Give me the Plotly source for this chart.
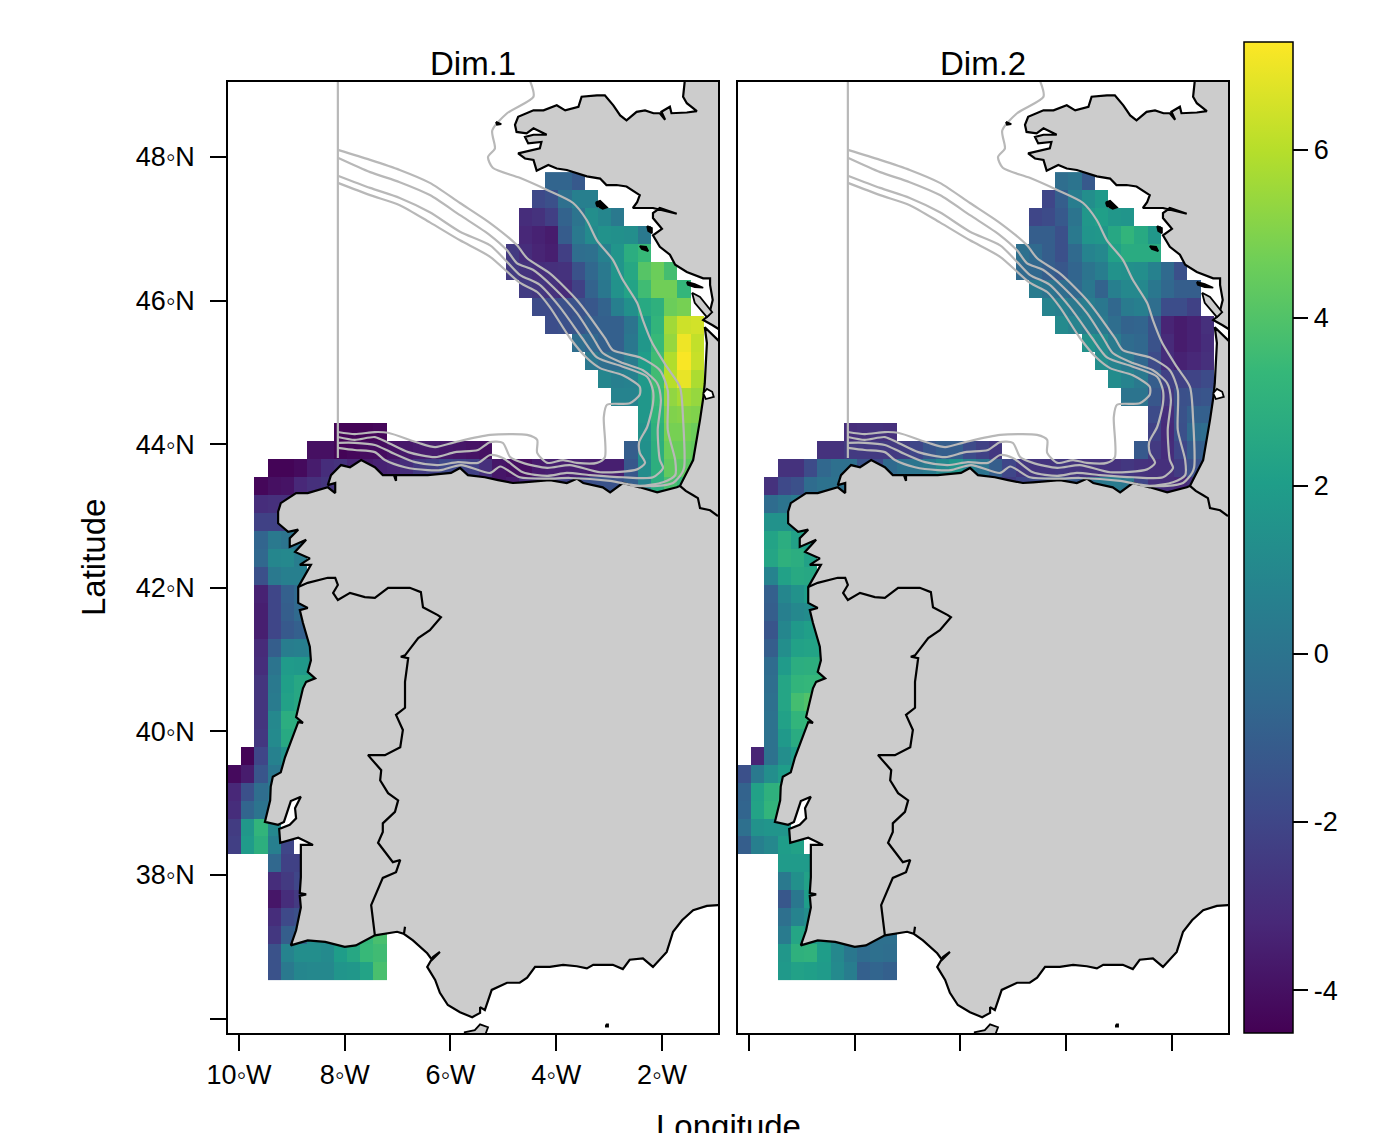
import plotly.graph_objects as go

N = None
PANEL_TITLES = ["Dim.1", "Dim.2"]
LON_FIRST_CENTRE = -10.083
LAT_FIRST_CENTRE = 47.665
CELL_DEG = 0.25
N_COLS = 37

# first grid column of each latitude row (row 0 is the northernmost)
ROW_FIRST = [24, 23, 22, 22, 21, 21, 22, 23, 24, 26, 27, 28, 29, 31, 8, 6, 3, 2,
             2, 2, 2, 2, 2, 2, 2, 2, 2, 2, 2, 2, 2, 2, 1, 0, 0, 0, 0, 0,
             3, 3, 3, 3, 3, 3, 3]

DIM1 = [
    [-0.7, -0.7, -1.2],
    [-1.9, -1.6, -0.2, 0.6, 0.6],
    [-3.0, -2.8, -2.3, -0.8, 0.0, 1.3, 0.9, 0.3],
    [-3.2, -3.4, -3.6, -1.1, 0.3, 1.1, 1.5, 1.4, 1.3, 0.3],
    [-2.5, -3.0, -3.3, -3.5, -2.3, -0.3, -0.2, 0.7, 1.6, 2.8, 3.4],
    [-2.5, -2.8, -3.0, -2.9, -2.8, -1.5, -0.6, 0.3, 1.6, 2.5, 4.1, 4.6, 3.7],
    [-2.4, -2.6, -2.8, -3.1, -2.2, -0.8, 0.2, 1.5, 2.3, 3.6, 4.7, 4.7, 3.3],
    [-1.8, -1.8, -1.6, -1.5, -1.3, -0.8, 0.6, 1.4, 2.6, 3.0, 4.6, 4.8],
    [-1.7, -1.6, -1.4, -1.0, -0.9, -0.9, 0.0, 1.8, 3.2, 5.6, 6.4, 6.5],
    [-0.3, -0.6, -0.9, -0.9, 0.2, 1.7, 3.4, 5.4, 7.0, 6.2],
    [0.2, -0.3, -0.4, 0.4, 2.0, 3.6, 5.9, 7.2, 6.3],
    [0.9, 0.6, 0.7, 1.8, 3.6, 6.0, 6.9, 5.8],
    [0.8, 0.8, 1.7, 3.4, 5.3, 5.7, 5.4],
    [1.7, 3.2, 5.0, 5.1, 5.0],
    [-4.4, -4.4, -4.4, -4.3] + [N] * 19 + [1.5, 3.0, 4.8, 4.8, 4.6],
    [-4.0, -4.0, -4.4, -4.3, -4.1, -4.1, -3.9, -3.7, -3.6, -3.6, -3.7, -3.8, -3.9, -4.0]
    + [N] * 10 + [-1.0, 1.4, 2.9, 4.6, 4.6, 4.4],
    [-4.4, -4.4, -4.2, -3.6, -3.0, -2.8, -3.3, -3.6, -3.4, -3.3, -3.0, -2.5, -2.3, -1.9, -2.0, -2.2,
     -2.9, -3.8, -4.0, -4.0, -3.6, -3.5, -3.5, -3.5, -3.6, -3.5, -3.5, -1.3, 1.2, 2.9, 4.4, 4.3, 4.0],
    [-4.3, -4.0, -3.9, -3.2, -2.9, -2.7, -2.8, -3.0, -3.0, -3.0, -3.0, -3.0, -2.5, -2.5, -2.3, -2.5, -3.0,
     -3.6, -3.8, -3.6, -3.0, -2.8, -2.5, -2.2, -1.8, -1.6, -1.5, -1.5, -1.0, 0.8, 2.8, 3.8, 3.4, 3.0],
    [-3.0, -2.9, -2.9],
    [-2.2, -2.2, -2.3],
    [-0.7, 0.3, 0.0, 0.0],
    [-0.6, 0.9, 1.0, 0.5],
    [-1.6, 0.3, 0.6, 0.6],
    [-3.4, -2.0, -0.9, -0.5],
    [-3.5, -2.0, -1.0, -0.5],
    [-3.5, -2.0, -1.2, -0.9, -0.8],
    [-3.1, -1.0, 0.5, 0.6, 0.7],
    [-3.0, 0.0, 1.9, 1.8, 1.7],
    [-2.7, 0.3, 2.1, 2.5, 2.5],
    [-2.7, 0.4, 2.2, 2.5],
    [-2.7, 1.0, 2.8, 2.8],
    [-2.6, 1.1, 2.6, 2.3],
    [-4.4, -2.0, 0.7, 1.5, 1.5],
    [-4.2, -3.6, -1.4, 0.2, 0.6],
    [-3.2, -1.6, -0.3, 0.2],
    [-3.0, -0.7, 0.0, 0.0],
    [-2.4, 1.7, 3.2, 1.0],
    [-2.3, 1.9, 2.9, 0.6, -2.0],
    [-0.6, -2.2, -2.2, -2.2],
    [-3.0, -2.5, -2.0, -2.0],
    [-3.8, -3.0, -2.5, -2.5],
    [-3.0, -1.9, -1.6, -1.6],
    [-2.6, -1.0, -0.7, 1.2, 1.1, 1.5, 2.2, 3.3, 3.8],
    [-1.5, 0.8, 1.3, 1.3, 1.1, 2.0, 2.5, 3.4, 3.6],
    [-1.5, 0.3, 0.9, 1.0, 1.0, 1.6, 1.7, 2.3, 3.8],
]

DIM2 = [
    [-0.3, 0.0, -1.2],
    [-2.0, -1.0, 0.5, 1.3, 1.8],
    [-2.0, -1.8, -1.2, 0.0, 1.7, 2.1, 1.7, 1.6],
    [-1.0, -1.0, -1.6, 0.3, 1.6, 1.7, 2.5, 3.2, 2.6, 1.7],
    [-0.2, -0.5, -1.0, -1.6, -0.5, 0.8, 1.0, 2.2, 2.7, 2.7, 2.7],
    [-0.5, -0.6, -1.0, -1.3, -0.7, 0.0, 0.5, 1.5, 1.4, 1.3, 0.7, -0.5, -1.6],
    [0.4, 0.0, -0.3, -0.6, 0.2, -0.8, 0.6, 1.0, 1.0, 0.2, -0.6, -1.0, -1.0],
    [0.8, 0.6, 0.3, 0.5, 0.2, -0.6, 0.4, 0.6, -0.3, -1.7, -1.7, -2.2],
    [1.1, 0.8, 0.5, 0.3, -0.3, -0.8, -0.7, -1.5, -3.3, -3.6, -3.4, -2.9],
    [1.5, 1.1, 0.4, -0.4, -0.6, -1.5, -3.1, -3.6, -3.4, -3.0],
    [1.3, 0.8, 0.3, -0.6, -1.8, -3.0, -3.4, -3.2, -2.9],
    [1.2, 0.8, 0.3, -1.0, -2.2, -2.2, -2.1, -1.8],
    [0.0, 0.0, -1.3, -2.6, -1.6, -1.5, -1.4],
    [-1.8, -3.0, -1.5, -0.9, -0.9],
    [-3.0, -2.9, -2.8, -2.9] + [N] * 19 + [-2.2, -3.1, -1.6, -0.5, -0.3],
    [-2.8, -2.8, -2.5, -2.5, -2.5, -2.5, -2.4, -2.0, -1.4, -1.0, -1.0, -1.8, -2.2, -2.6]
    + [N] * 10 + [-1.2, -2.5, -3.0, -2.0, -1.1, -0.9],
    [-2.8, -2.8, -1.8, -0.6, -0.2, -0.2, -1.5, -1.9, -0.5, -0.1, 0.1, 0.4, 1.0, 1.6, 0.7, 0.0,
     -1.0, -2.0, -2.6, -2.7, -2.7, -2.6, -2.7, -2.8, -2.8, -2.8, -2.6, -2.8, -2.9, -2.9, -2.4, -1.6, -1.2],
    [-2.8, -1.9, -1.6, -0.4, -0.1, -0.1, -0.5, -1.0, -1.0, -1.0, -1.0, -1.0, -0.5, 0.0, 0.5, 0.0, -1.0,
     -2.4, -2.4, -2.0, -1.8, -1.5, -1.2, -1.2, -0.4, 0.3, 0.4, 0.2, -2.0, -2.9, -3.0, -3.2, -2.8, -2.6],
    [-0.4, 0.0, 0.4],
    [1.5, 1.5, 1.3],
    [2.3, 2.8, 2.2, 2.0],
    [2.4, 3.0, 2.8, 2.2],
    [0.8, 2.2, 2.6, 2.5],
    [-0.9, 0.9, 1.5, 2.0],
    [-1.0, 0.6, 1.0, 1.2],
    [-1.4, 0.9, 1.8, 2.1, 2.4],
    [-1.0, 1.3, 2.2, 2.3, 2.3],
    [-0.4, 1.9, 2.8, 2.9, 2.9],
    [-0.3, 2.4, 3.2, 3.3, 3.3],
    [-0.2, 2.4, 3.7, 4.0],
    [-0.1, 2.2, 3.2, 3.3],
    [-0.1, 1.8, 2.7, 3.0],
    [-3.3, -0.1, 1.3, 2.0, 2.2],
    [-1.6, 0.3, 1.3, 2.0, 2.5],
    [-0.8, 2.2, 3.0, 3.2],
    [-0.7, 2.3, 3.2, 3.2],
    [-0.2, 1.5, 1.6, 1.6],
    [-1.0, 0.6, 1.0, 2.0, 2.2],
    [1.9, 1.9, 1.9, 2.0],
    [0.3, 1.4, 2.2, 2.2],
    [-1.3, 0.2, 2.0, 2.0],
    [-0.2, 0.8, 1.3, 1.5],
    [0.4, 2.4, 2.0, 1.8, 1.0, 0.5, 0.0, -0.2, -0.2],
    [1.7, 3.0, 3.1, 2.0, 1.0, 0.2, -0.4, -0.2, -0.3],
    [1.8, 2.2, 2.1, 1.9, 1.1, 0.5, -0.9, -0.7, -0.9],
]

# Land outline, lon/lat
COAST = [
    (-1.57, 49.2), (-1.57, 49.05), (-1.60, 48.84), (-1.53, 48.75), (-1.34, 48.64), (-1.53, 48.62),
    (-1.82, 48.61), (-1.85, 48.70), (-2.01, 48.63), (-1.94, 48.52), (-2.04, 48.61), (-2.16, 48.61),
    (-2.32, 48.65), (-2.48, 48.63), (-2.67, 48.51), (-2.79, 48.58), (-2.92, 48.72), (-3.08, 48.86),
    (-3.23, 48.86), (-3.52, 48.84), (-3.58, 48.70), (-3.83, 48.65), (-3.99, 48.72), (-4.24, 48.65),
    (-4.43, 48.65), (-4.72, 48.56), (-4.78, 48.45), (-4.75, 48.35), (-4.56, 48.33), (-4.43, 48.40),
    (-4.18, 48.31), (-4.43, 48.31), (-4.59, 48.28), (-4.53, 48.19), (-4.28, 48.21), (-4.31, 48.12),
    (-4.72, 48.05), (-4.59, 47.98), (-4.43, 47.96), (-4.37, 47.81), (-4.15, 47.89), (-3.99, 47.84),
    (-3.80, 47.82), (-3.42, 47.73), (-3.17, 47.70), (-3.05, 47.61), (-2.86, 47.61), (-2.67, 47.59),
    (-2.42, 47.47), (-2.47, 47.37), (-2.55, 47.29), (-2.17, 47.29), (-1.72, 47.21), (-2.04, 47.29),
    (-2.17, 47.22), (-2.17, 47.15), (-2.00, 47.00), (-2.17, 46.91), (-2.04, 46.75), (-1.85, 46.64),
    (-1.75, 46.50), (-1.53, 46.40), (-1.22, 46.31), (-1.09, 46.31), (-1.09, 46.22), (-1.04, 46.01),
    (-1.11, 45.80), (-1.22, 45.73), (-1.05, 45.66), (-0.83, 45.56), (-0.83, 45.37), (-1.19, 45.63),
    (-1.15, 45.41), (-1.19, 44.85), (-1.22, 44.64), (-1.28, 44.34), (-1.41, 43.78), (-1.53, 43.60),
    (-1.66, 43.42), (-1.72, 43.40), (-2.09, 43.33), (-2.42, 43.40), (-2.74, 43.46), (-2.98, 43.33),
    (-3.12, 43.40), (-3.49, 43.46), (-3.61, 43.52), (-3.80, 43.46), (-4.12, 43.50), (-4.63, 43.47),
    (-4.82, 43.46), (-5.10, 43.50), (-5.35, 43.54), (-5.67, 43.57), (-5.82, 43.67), (-5.99, 43.60),
    (-6.43, 43.57), (-7.03, 43.57), (-7.03, 43.49), (-7.07, 43.57), (-7.28, 43.57), (-7.43, 43.68),
    (-7.69, 43.78), (-7.90, 43.68), (-8.07, 43.71), (-8.26, 43.57), (-8.32, 43.43), (-8.18, 43.46),
    (-8.18, 43.32), (-8.32, 43.40), (-8.70, 43.32), (-8.92, 43.32), (-9.21, 43.18), (-9.26, 43.06),
    (-9.26, 42.90), (-9.07, 42.78), (-8.88, 42.81), (-9.04, 42.69), (-9.04, 42.57), (-8.73, 42.67),
    (-8.94, 42.50), (-8.66, 42.41), (-8.85, 42.32), (-8.64, 42.32), (-8.88, 42.01), (-8.88, 41.79),
    (-8.70, 41.72), (-8.85, 41.69), (-8.79, 41.51), (-8.66, 41.18), (-8.64, 40.99), (-8.70, 40.83),
    (-8.56, 40.74), (-8.73, 40.69), (-8.79, 40.60), (-8.92, 40.20), (-8.79, 40.12), (-8.88, 40.13),
    (-9.13, 39.64), (-9.21, 39.43), (-9.36, 39.37), (-9.40, 39.23), (-9.41, 39.04), (-9.51, 38.74),
    (-9.26, 38.70), (-9.15, 38.74), (-9.02, 39.03), (-8.83, 39.09), (-8.94, 38.93), (-8.92, 38.79),
    (-9.04, 38.70), (-9.24, 38.64), (-9.22, 38.45), (-8.88, 38.52), (-8.60, 38.42), (-8.83, 38.42),
    (-8.83, 37.97), (-8.85, 37.75), (-8.73, 37.73), (-8.85, 37.71), (-8.83, 37.55), (-8.92, 37.23),
    (-9.02, 37.02), (-8.70, 37.09), (-8.37, 37.07), (-8.00, 37.00), (-7.79, 37.02), (-7.43, 37.16),
    (-7.01, 37.21), (-6.88, 37.18), (-6.86, 37.28), (-6.88, 37.18), (-6.71, 37.09), (-6.44, 36.91),
    (-6.35, 36.82), (-6.20, 36.93), (-6.33, 36.86), (-6.44, 36.72), (-6.29, 36.54), (-6.20, 36.36),
    (-6.05, 36.19), (-5.82, 36.09), (-5.59, 36.02), (-5.44, 36.08), (-5.44, 36.16), (-5.35, 36.12),
    (-5.22, 36.40), (-4.93, 36.50), (-4.69, 36.50), (-4.55, 36.57), (-4.40, 36.72), (-4.12, 36.72),
    (-3.87, 36.75), (-3.61, 36.73), (-3.42, 36.70), (-3.30, 36.75), (-2.93, 36.75), (-2.74, 36.69),
    (-2.61, 36.82), (-2.36, 36.84), (-2.17, 36.72), (-1.91, 36.93), (-1.79, 37.21), (-1.62, 37.37),
    (-1.41, 37.51), (-1.15, 37.57), (-0.94, 37.58), (-0.80, 37.58), (-0.80, 49.2), (-1.57, 49.2),
]
PT_BORDER = [
    (-8.88, 42.01), (-8.70, 42.07), (-8.32, 42.14), (-8.18, 42.14), (-8.13, 42.04), (-8.22, 41.93),
    (-8.13, 41.83), (-7.90, 41.93), (-7.62, 41.87), (-7.43, 41.86), (-7.18, 42.00), (-6.77, 42.00),
    (-6.56, 41.94), (-6.52, 41.73), (-6.24, 41.62), (-6.18, 41.59), (-6.39, 41.41), (-6.61, 41.30),
    (-6.86, 41.06), (-6.94, 41.04), (-6.80, 41.02), (-6.86, 40.69), (-6.86, 40.33), (-7.03, 40.23),
    (-6.90, 40.02), (-6.95, 39.78), (-7.24, 39.67), (-7.56, 39.67), (-7.31, 39.46), (-7.33, 39.32),
    (-7.18, 39.14), (-6.99, 39.04), (-7.05, 38.88), (-7.28, 38.72), (-7.28, 38.60), (-7.37, 38.45),
    (-7.09, 38.18), (-6.95, 38.21), (-7.03, 38.04), (-7.28, 37.96), (-7.50, 37.58), (-7.43, 37.16),
]
FR_BORDER = [(-1.66, 43.42), (-1.55, 43.35), (-1.41, 43.29), (-1.32, 43.25), (-1.28, 43.11), (-1.09, 43.08), (-0.94, 43.00)]

ISLANDS = [
    [(-1.43, 46.11), (-1.38, 45.97), (-1.15, 45.77), (-1.05, 45.84), (-1.28, 46.05), (-1.43, 46.11)],
    [(-1.53, 46.26), (-1.38, 46.23), (-1.22, 46.18), (-1.38, 46.19), (-1.51, 46.22), (-1.53, 46.26)],
    [(-2.42, 46.76), (-2.30, 46.75), (-2.26, 46.69), (-2.38, 46.72), (-2.42, 46.76)],
    [(-3.25, 47.37), (-3.17, 47.39), (-3.04, 47.30), (-3.12, 47.28), (-3.23, 47.32), (-3.25, 47.37)],
    [(-2.28, 47.04), (-2.19, 47.01), (-2.19, 46.94), (-2.26, 46.97), (-2.28, 47.04)],
    [(-5.14, 48.49), (-5.04, 48.46), (-5.12, 48.45), (-5.14, 48.49)],
    [(-3.06, 35.92), (-3.02, 35.92), (-3.02, 35.89), (-3.06, 35.89), (-3.06, 35.92)],
    [(-5.73, 35.76), (-5.73, 35.81), (-5.54, 35.84), (-5.44, 35.92), (-5.29, 35.88), (-5.35, 35.76), (-5.73, 35.76)],
]
ARCACHON = [(-1.22, 44.71), (-1.15, 44.77), (-1.05, 44.73), (-1.02, 44.66), (-1.17, 44.63), (-1.22, 44.71)]

# Bathymetric contours, lon/lat
CONTOUR_0 = [
    (-4.49, 49.05), (-4.43, 48.84), (-4.93, 48.61), (-5.21, 48.37), (-5.16, 48.12), (-5.29, 48.00),
    (-5.20, 47.85), (-4.69, 47.71), (-4.17, 47.54), (-3.68, 47.36), (-3.42, 47.12), (-3.23, 46.84),
    (-2.93, 46.57), (-2.74, 46.29), (-2.47, 45.97), (-2.36, 45.73), (-2.19, 45.42), (-1.91, 45.08),
    (-1.66, 44.80), (-1.60, 44.34), (-1.58, 43.68), (-1.62, 43.60), (-1.79, 43.46), (-2.09, 43.42), (-2.60, 43.42),
]
CONTOUR_1 = [
    (-8.13, 48.10), (-7.52, 47.96), (-6.96, 47.82), (-6.39, 47.64), (-5.82, 47.36), (-5.25, 47.08),
    (-4.74, 46.77), (-4.55, 46.59), (-4.12, 46.38), (-3.61, 46.01), (-3.08, 45.48), (-2.93, 45.31),
    (-2.42, 45.21), (-2.04, 45.03), (-1.89, 44.75), (-1.89, 44.20), (-1.75, 43.78), (-1.75, 43.57),
    (-1.98, 43.47), (-2.42, 43.42), (-2.98, 43.49), (-3.74, 43.53), (-4.17, 43.52), (-4.69, 43.54),
    (-5.06, 43.69), (-5.25, 43.60), (-5.80, 43.71), (-6.18, 43.64), (-6.43, 43.64), (-6.86, 43.68),
    (-7.24, 43.78), (-7.43, 43.89), (-7.81, 43.92), (-8.13, 43.95),
]
CONTOUR_2 = [
    (-8.13, 47.99), (-7.52, 47.79), (-6.96, 47.65), (-6.39, 47.47), (-5.82, 47.19), (-5.25, 46.91),
    (-4.93, 46.70), (-4.74, 46.52), (-4.44, 46.43), (-4.06, 46.19), (-3.61, 45.83), (-3.30, 45.48),
    (-3.12, 45.27), (-2.74, 45.13), (-2.36, 45.03), (-2.09, 44.85), (-2.02, 44.62), (-2.08, 44.20),
    (-2.04, 43.78), (-1.98, 43.67), (-2.17, 43.54), (-2.74, 43.54), (-3.36, 43.57), (-3.80, 43.60),
    (-4.17, 43.56), (-4.63, 43.61), (-5.01, 43.81), (-5.25, 43.85), (-5.48, 43.74), (-5.86, 43.75),
    (-6.24, 43.71), (-6.67, 43.75), (-7.13, 43.89), (-7.43, 43.99), (-7.81, 44.02), (-8.13, 44.02),
]
CONTOUR_3 = [
    (-8.13, 47.74), (-7.52, 47.57), (-6.96, 47.43), (-6.39, 47.23), (-5.82, 46.96), (-5.25, 46.77),
    (-4.93, 46.54), (-4.69, 46.36), (-4.31, 46.22), (-3.93, 45.91), (-3.51, 45.48), (-3.23, 45.21),
    (-2.74, 45.08), (-2.28, 44.94), (-2.17, 44.75), (-2.17, 44.57), (-2.28, 44.24), (-2.43, 44.03),
    (-2.42, 43.88), (-2.32, 43.74), (-2.47, 43.65), (-3.17, 43.61), (-3.74, 43.71), (-4.17, 43.67),
    (-4.63, 43.74), (-4.87, 43.82), (-5.01, 44.02), (-5.25, 44.03), (-5.48, 43.92), (-5.91, 43.89),
    (-6.29, 43.82), (-6.80, 43.89), (-7.18, 44.02), (-7.43, 44.10), (-7.81, 44.06), (-8.13, 44.10),
]
CONTOUR_4 = [
    (-8.13, 47.64), (-7.52, 47.47), (-6.96, 47.33), (-6.39, 47.09), (-5.82, 46.84), (-5.25, 46.61),
    (-4.69, 46.25), (-4.36, 46.12), (-4.12, 45.91), (-3.74, 45.48), (-3.42, 45.20), (-3.17, 45.06),
    (-2.74, 44.96), (-2.42, 44.80), (-2.42, 44.69), (-2.61, 44.57), (-3.04, 44.55), (-3.10, 44.38),
    (-3.08, 43.82), (-3.23, 43.74), (-3.61, 43.74), (-3.87, 43.78), (-4.17, 43.74), (-4.36, 43.88),
    (-4.36, 44.06), (-4.55, 44.13), (-5.25, 44.13), (-5.91, 44.03), (-6.29, 43.96), (-6.61, 44.02),
    (-7.18, 44.16), (-7.43, 44.17), (-7.81, 44.14), (-8.13, 44.17),
]
MERIDIAN = [(-8.13, 49.2), (-8.13, 43.81)]

X_TICKS = [-10, -8, -6, -4, -2]
X_LABELS = ["10◦W", "8◦W", "6◦W", "4◦W", "2◦W"]
Y_TICKS = [36, 38, 40, 42, 44, 46, 48]
Y_LABELS = ["", "38◦N", "40◦N", "42◦N", "44◦N", "46◦N", "48◦N"]
CB_TICKS = [-4, -2, 0, 2, 4, 6]
CB_LABELS = ["-4", "-2", "0", "2", "4", "6"]
Z_RANGE = [-4.51, 7.28]
X_RANGE = [-10.208, -0.94]
Y_RANGE = [35.80, 49.045]

W, H = 1382, 1133
LAND = "#cccccc"
GREY = "#b8b8b8"
FONT = "Liberation Sans"
TICK_SIZE = 27
TITLE_SIZE = 33


def grid(rows):
    z = []
    for first, vals in zip(ROW_FIRST, rows):
        row = [None] * N_COLS
        row[first:first + len(vals)] = vals
        z.append(row)
    return z


lons = [LON_FIRST_CENTRE + CELL_DEG * i for i in range(N_COLS)]
lats = [LAT_FIRST_CENTRE - CELL_DEG * j for j in range(len(ROW_FIRST))]


def xy(pts):
    return [p[0] for p in pts], [p[1] for p in pts]


fig = go.Figure()
for idx, rows in enumerate([DIM1, DIM2]):
    xa = "x" if idx == 0 else "x2"
    ya = "y" if idx == 0 else "y2"
    fig.add_trace(go.Heatmap(x=lons, y=lats, z=grid(rows), coloraxis="coloraxis",
                             xaxis=xa, yaxis=ya, zsmooth=False, hoverongaps=False))
    px, py = xy(COAST)
    fig.add_trace(go.Scatter(x=px, y=py, mode="lines", fill="toself", fillcolor=LAND,
                             line=dict(color="black", width=2.2), xaxis=xa, yaxis=ya))
    for c in [CONTOUR_0, CONTOUR_1, CONTOUR_2, CONTOUR_3, CONTOUR_4]:
        cx, cy = xy(c)
        fig.add_trace(go.Scatter(x=cx, y=cy, mode="lines",
                                 line=dict(color=GREY, width=2.2, shape="spline", smoothing=0.7),
                                 xaxis=xa, yaxis=ya))
    mx, my = xy(MERIDIAN)
    fig.add_trace(go.Scatter(x=mx, y=my, mode="lines", line=dict(color=GREY, width=2.2), xaxis=xa, yaxis=ya))
    for b in [PT_BORDER, FR_BORDER]:
        bx, by = xy(b)
        fig.add_trace(go.Scatter(x=bx, y=by, mode="lines", line=dict(color="black", width=2.2), xaxis=xa, yaxis=ya))
    for k, isl in enumerate(ISLANDS):
        ix, iy = xy(isl)
        fig.add_trace(go.Scatter(x=ix, y=iy, mode="lines", fill="toself",
                                 fillcolor=LAND if k in (0, 7) else "black",
                                 line=dict(color="black", width=1.8), xaxis=xa, yaxis=ya))
    ax, ay = xy(ARCACHON)
    fig.add_trace(go.Scatter(x=ax, y=ay, mode="lines", fill="toself", fillcolor="white",
                             line=dict(color="black", width=1.8), xaxis=xa, yaxis=ya))

axis_common = dict(showgrid=False, zeroline=False, showline=True, linecolor="black", linewidth=1.5,
                   mirror=True, tickcolor="black", tickwidth=1.5, ticklen=16, ticks="outside",
                   tickfont=dict(family=FONT, size=TICK_SIZE, color="black"))
y_dom = [1 - 1033 / H, 1 - 82 / H]
fig.update_layout(
    width=W, height=H, margin=dict(l=0, r=0, t=0, b=0, autoexpand=False), autosize=False,
    paper_bgcolor="white", plot_bgcolor="white", showlegend=False,
    xaxis=dict(domain=[228 / W, 718 / W], range=X_RANGE, tickvals=X_TICKS, ticktext=X_LABELS,
               ticklabelstandoff=1, **axis_common),
    xaxis2=dict(domain=[738 / W, 1228 / W], range=X_RANGE, tickvals=X_TICKS, ticktext=[""] * 5,
                anchor="y2", **axis_common),
    yaxis=dict(domain=y_dom, range=Y_RANGE, tickvals=Y_TICKS, ticktext=Y_LABELS,
               ticklabelstandoff=10, **axis_common),
    yaxis2=dict(domain=y_dom, range=Y_RANGE, anchor="x2", **{**axis_common, "ticks": ""}, showticklabels=False),
    coloraxis=dict(colorscale="Viridis", cmin=Z_RANGE[0], cmax=Z_RANGE[1],
                   colorbar=dict(x=1244 / W, xanchor="left", y=1 - 1033 / H, yanchor="bottom",
                                 len=991 / H, lenmode="fraction", thickness=49, thicknessmode="pixels",
                                 xpad=0, ypad=0, outlinecolor="black", outlinewidth=1.5,
                                 tickvals=CB_TICKS, ticktext=CB_LABELS, ticks="outside", ticklen=15,
                                 tickwidth=1.5, tickcolor="black",
                                 tickfont=dict(family=FONT, size=TICK_SIZE, color="black"))),
    annotations=[
        dict(text=PANEL_TITLES[0], x=473 / W, y=1 - 63 / H, xref="paper", yref="paper", showarrow=False,
             xanchor="center", yanchor="middle", font=dict(family=FONT, size=TITLE_SIZE, color="black")),
        dict(text=PANEL_TITLES[1], x=983 / W, y=1 - 63 / H, xref="paper", yref="paper", showarrow=False,
             xanchor="center", yanchor="middle", font=dict(family=FONT, size=TITLE_SIZE, color="black")),
        dict(text="Latitude", x=93 / W, y=1 - 557 / H, xref="paper", yref="paper", showarrow=False, textangle=-90,
             xanchor="center", yanchor="middle", font=dict(family=FONT, size=TITLE_SIZE, color="black")),
        dict(text="Longitude", x=728 / W, y=1 - 1126 / H, xref="paper", yref="paper", showarrow=False,
             xanchor="center", yanchor="middle", font=dict(family=FONT, size=TITLE_SIZE, color="black")),
    ],
)
fig.write_html("out.html", config={"displayModeBar": False},
               post_script="document.body.style.margin='0';document.documentElement.style.overflow='hidden';")
